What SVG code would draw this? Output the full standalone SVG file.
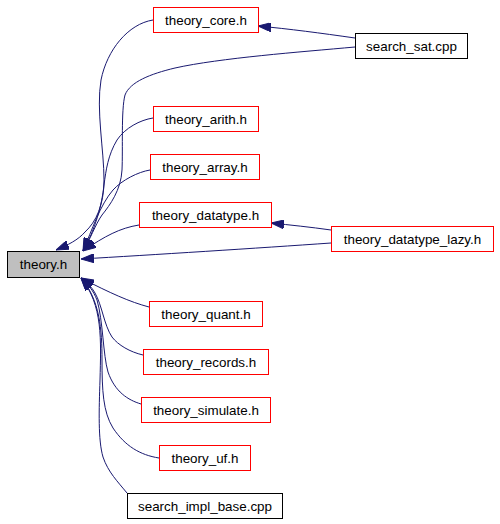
<svg xmlns="http://www.w3.org/2000/svg" width="500" height="524" viewBox="0 0 500 524">
<style>
.n rect{fill:#fff;stroke:#ff0000;stroke-width:1}
.n.b rect{stroke:#000}
.n.g rect{fill:#bfbfbf;stroke:#000}
.n text{font-family:"Liberation Sans",Arial,sans-serif;font-size:13.4px;fill:#000;text-anchor:middle}
.e path{fill:none;stroke:#191970;stroke-width:1;marker-end:url(#ah)}
</style>
<defs>
<marker id="ah" viewBox="0 0 13 9" refX="13" refY="4.5" markerWidth="13" markerHeight="9" markerUnits="userSpaceOnUse" orient="auto">
<path d="M0,0 L13,4.5 L0,9 z" fill="#191970" stroke="#191970"/>
</marker>
</defs>
<rect width="500" height="524" fill="#fff"/>
<g class="e" id="edges">
<path d="M355,38 C320,33 290,29 258,26"/>
<path d="M331,230 C310,227 290,225 271,223"/>
<path d="M153,20 C128,24 107,50 101,80 C96,110 104,150 104,180 C104,205 96,222 85,232 C78,240 68,245 56,250"/>
<path d="M355,47 C300,52 220,58 175,68 C150,74 130,82 125,95 C121,110 123,150 122,170 C121,190 110,205 102,215 C95,225 90,240 83,251"/>
<path d="M153,118 C140,120 125,128 117,140 C108,155 106,170 104,185 C102,205 95,230 83,251"/>
<path d="M150,170 C138,172 122,180 113,190 C100,205 92,230 83,251"/>
<path d="M139,225 C120,228 105,236 83,251"/>
<path d="M331,243 C260,248 150,255 81,259"/>
<path d="M149,307 C130,302 110,293 81,278"/>
<path d="M143,355 C130,352 118,345 112,337 C104,325 102,305 95,293 C92,287 86,282 81,278"/>
<path d="M141,404 C128,400 115,392 108,372 C103,355 103,320 97,300 C93,290 88,284 81,278"/>
<path d="M159,458 C140,455 125,446 113,428 C103,412 102,390 102,360 C102,330 100,300 81,278"/>
<path d="M127,493 C118,482 108,472 103,457 C98,440 99,410 100,380 C101,340 103,305 81,278"/>
</g>
<g class="n g" id="theory_h"><rect x="7.5" y="251.5" width="72" height="26"/><text x="43.5" y="269">theory.h</text></g>
<g class="n" id="theory_core_h"><rect x="153.5" y="7.5" width="105" height="25"/><text x="206" y="24.5">theory_core.h</text></g>
<g class="n b" id="search_sat_cpp"><rect x="355.5" y="33.5" width="112" height="25"/><text x="411.5" y="50.5">search_sat.cpp</text></g>
<g class="n" id="theory_arith_h"><rect x="153.5" y="106.5" width="105" height="25"/><text x="206" y="123.5">theory_arith.h</text></g>
<g class="n" id="theory_array_h"><rect x="150.5" y="154.5" width="109" height="25"/><text x="205" y="171.5">theory_array.h</text></g>
<g class="n" id="theory_datatype_h"><rect x="139.5" y="202.5" width="132" height="25"/><text x="205.5" y="219.5">theory_datatype.h</text></g>
<g class="n" id="theory_datatype_lazy_h"><rect x="331.5" y="226.5" width="162" height="25"/><text x="412.5" y="243.5">theory_datatype_lazy.h</text></g>
<g class="n" id="theory_quant_h"><rect x="149.5" y="301.5" width="113" height="25"/><text x="206" y="318.5">theory_quant.h</text></g>
<g class="n" id="theory_records_h"><rect x="143.5" y="349.5" width="125" height="25"/><text x="206" y="366.5">theory_records.h</text></g>
<g class="n" id="theory_simulate_h"><rect x="141.5" y="397.5" width="129" height="25"/><text x="206" y="414.5">theory_simulate.h</text></g>
<g class="n" id="theory_uf_h"><rect x="159.5" y="445.5" width="91" height="25"/><text x="205" y="462.5">theory_uf.h</text></g>
<g class="n b" id="search_impl_base_cpp"><rect x="127.5" y="493.5" width="155" height="25"/><text x="205" y="510.5">search_impl_base.cpp</text></g>
</svg>
